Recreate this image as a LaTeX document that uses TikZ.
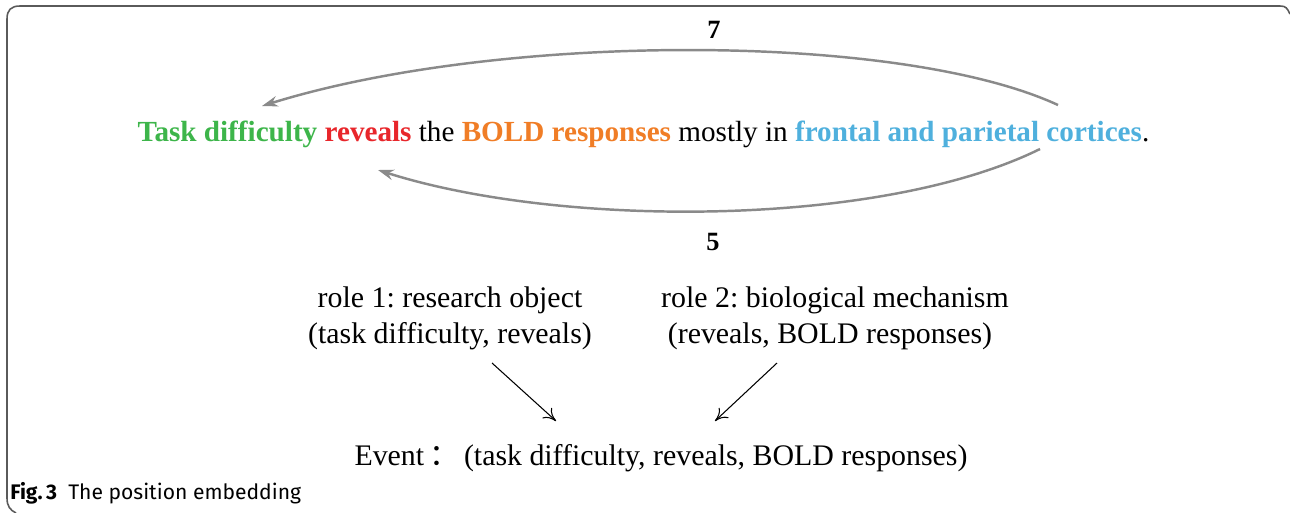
\documentclass[tikz,border=0pt]{standalone}
\usepackage{fontspec}
\setmainfont{Liberation Serif}
\newfontfamily\capfont{Fira Sans}
\newfontfamily\cjk{Noto Sans CJK SC}
\usetikzlibrary{arrows.meta}
\definecolor{cgreen}{HTML}{3DB54A}
\definecolor{cred}{HTML}{E8262B}
\definecolor{corange}{HTML}{F07D26}
\definecolor{cblue}{HTML}{4FB0DD}
\definecolor{cgray}{HTML}{8A8A8A}
\definecolor{cframe}{HTML}{5A5A5A}
\frenchspacing
\begin{document}
\begin{tikzpicture}[x=0.02cm,y=-0.02cm,
  curvearrow/.style={draw=cgray,line width=1.4pt,-{Stealth[length=9pt,width=6pt]}},
  straightarrow/.style={draw=black,line width=0.6pt,-{To[length=7pt,width=8pt]}},
  sentence/.style={font=\fontsize{16.6pt}{18pt}\selectfont,inner sep=0pt,anchor=base},
  roletext/.style={font=\fontsize{17pt}{20pt}\selectfont,inner sep=0pt,align=center,anchor=base},
  numlabel/.style={font=\fontsize{15pt}{16pt}\selectfont\bfseries,inner sep=0pt,anchor=base}]
\useasboundingbox (0,0) rectangle (1290,512);
% frame
\draw[cframe,line width=0.9pt] (1290,14) .. controls (1287,8) and (1286,6) .. (1280,6) -- (20,6) .. controls (11,6) and (7,10) .. (7,19) -- (7,498) .. controls (7,506) and (10,510) .. (16,513);
% sentence
\node[sentence] (sent) at (643.5,141) {\textcolor{cgreen}{\bfseries Task difficulty} \textcolor{cred}{\bfseries reveals} the \textcolor{corange}{\bfseries BOLD responses} mostly in \textcolor{cblue}{\bfseries frontal and parietal cortices}.};
\coordinate (topR) at (1058,105);
\coordinate (topL) at (262,106);
\coordinate (botR) at (1040,149);
\coordinate (botL) at (378,170);
\draw[curvearrow] (topR) .. controls (900,32) and (500,32) .. (topL);
\draw[curvearrow] (botR) .. controls (880,228) and (560,228) .. (botL);
\node[numlabel] (seven) at (714,38) {7};
\node[numlabel] (five) at (713,250) {5};
% roles
\node[roletext] (role1) at (450,307) {role 1: research object};
\node[roletext] (role1b) at (450,343) {(task difficulty, reveals)};
\node[roletext] (role2) at (835,307) {role 2: biological mechanism};
\node[roletext] (role2b) at (830,343) {(reveals, BOLD responses)};
\node[roletext] (event) at (661,465) {Event\,{\cjk ：}\,(task difficulty, reveals, BOLD responses)};
\coordinate (a1s) at (492,363);
\coordinate (a1e) at (556,421);
\coordinate (a2s) at (777,363);
\coordinate (a2e) at (715,421);
\draw[straightarrow] (a1s) -- (a1e);
\draw[straightarrow] (a2s) -- (a2e);
% caption
\node[font=\capfont\fontsize{12pt}{13pt}\selectfont,inner sep=0pt,anchor=base west] (cap) at (10,499) {\textbf{Fig.\,3}\ \ The position embedding};
\end{tikzpicture}
\end{document}
